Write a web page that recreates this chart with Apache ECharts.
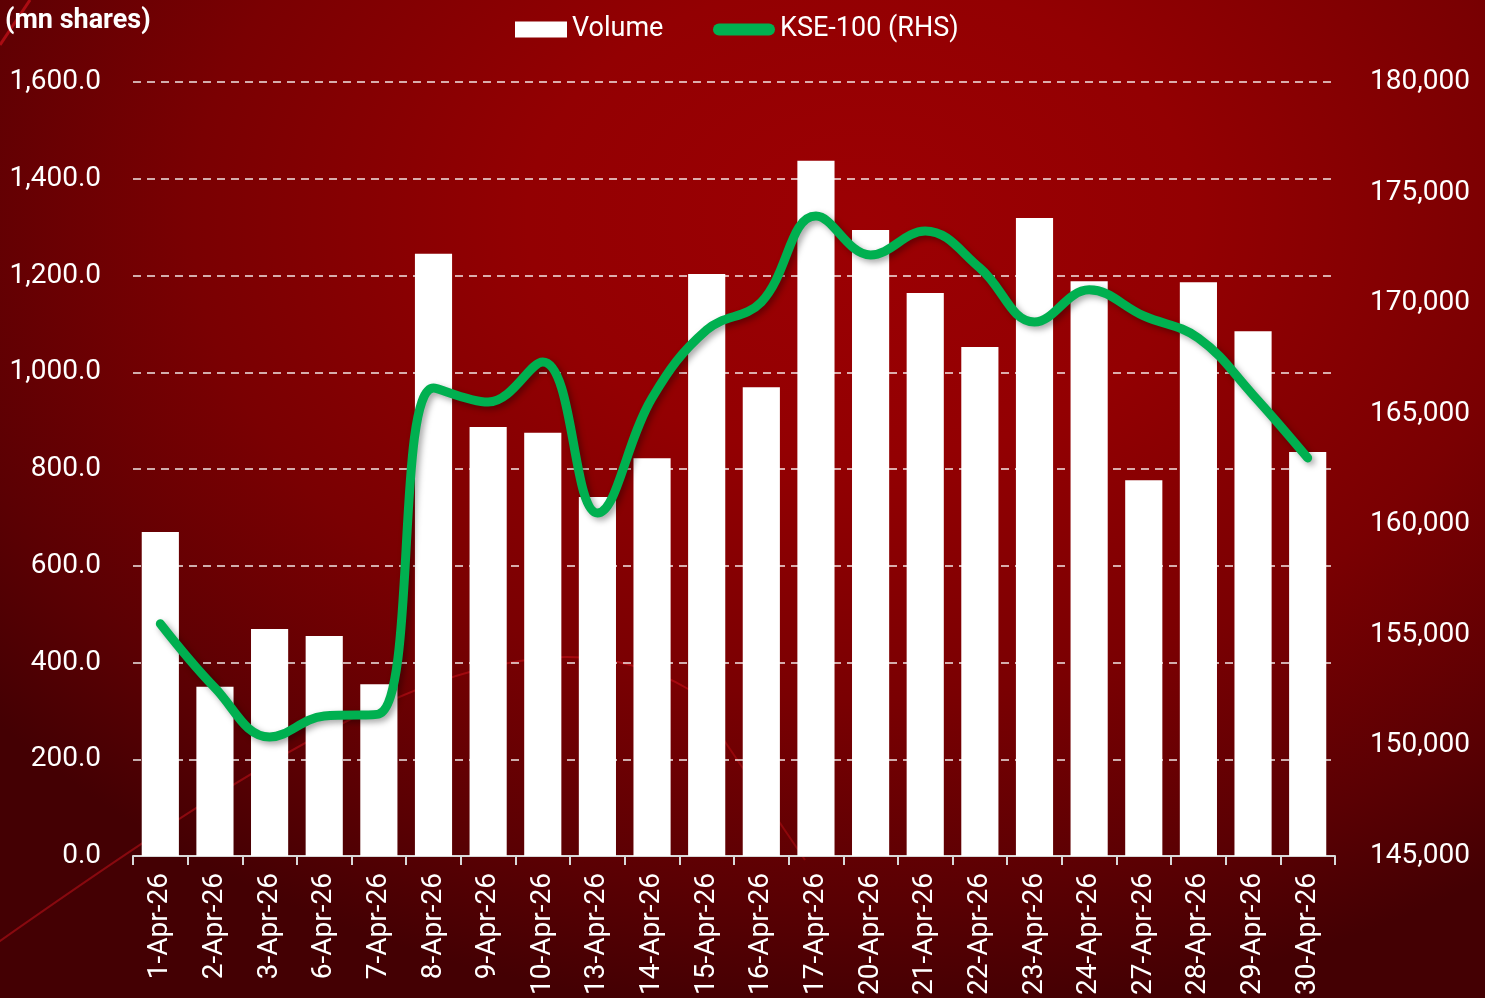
<!DOCTYPE html>
<html>
<head>
<meta charset="utf-8">
<script src="https://cdn.jsdelivr.net/npm/echarts@6/dist/echarts.min.js"></script>
<style>
html,body{margin:0;padding:0;width:1485px;height:998px;overflow:hidden;}
body{background:radial-gradient(ellipse 75% 80% at 58% 22%, #9c0003 0%, #930002 30%, #7a0002 60%, #5a0003 85%, #440003 100%);}
#c{width:1485px;height:998px;}
</style>
</head>
<body>
<div id="c"></div>
<script>
const categories = ['1-Apr-26','2-Apr-26','3-Apr-26','6-Apr-26','7-Apr-26','8-Apr-26','9-Apr-26','10-Apr-26','13-Apr-26','14-Apr-26','15-Apr-26','16-Apr-26','17-Apr-26','20-Apr-26','21-Apr-26','22-Apr-26','23-Apr-26','24-Apr-26','27-Apr-26','28-Apr-26','29-Apr-26','30-Apr-26'];
const volume = [670, 350, 469, 455, 355, 1245, 887, 875, 742, 822, 1203, 969, 1437, 1294, 1164, 1052, 1319, 1188, 777, 1186, 1085, 835];
const kse100 = [155500, 152600, 150380, 151330, 151420, 166160, 165530, 167340, 160510, 165710, 168790, 170050, 173940, 172180, 173260, 171590, 169150, 170600, 169420, 168420, 165850, 163000];
const leftTicks = {min: 0, max: 1600, interval: 200};
const rightTicks = {min: 145000, max: 180000, interval: 5000};
const unitLabel = '(mn shares)';
const volumeName = 'Volume';
const kseName = 'KSE-100 (RHS)';

const font = 'Roboto, "Liberation Sans", Arial, sans-serif';
const chart = echarts.init(document.getElementById('c'), null, {renderer: 'canvas'});
chart.setOption({
  backgroundColor: 'transparent',
  animation: false,
  textStyle: {fontFamily: font, color: '#ffffff'},
  graphic: [
    {type: 'bezierCurve', z: 0, silent: true,
     shape: {x1: -10, y1: 948, x2: 690, y2: 690, cpx1: 300, cpy1: 730, cpx2: 520, cpy2: 590},
     style: {stroke: 'rgba(220,20,30,0.45)', lineWidth: 2, fill: null}},
    {type: 'line', z: 0, silent: true,
     shape: {x1: 690, y1: 690, x2: 805, y2: 860},
     style: {stroke: 'rgba(220,20,30,0.35)', lineWidth: 2}},
    {type: 'line', z: 0, silent: true,
     shape: {x1: 0, y1: 45, x2: 30, y2: 0},
     style: {stroke: 'rgba(220,20,30,0.6)', lineWidth: 3}},
    {type: 'text', left: 5, top: 8, z: 10,
     style: {text: unitLabel, fill: '#ffffff', font: 'bold 27px ' + font}}
  ],
  legend: [
    {left: 515, top: 16, padding: 0, itemWidth: 52, itemHeight: 16, icon: 'rect',
     data: [volumeName], textStyle: {color: '#ffffff', fontSize: 27, fontFamily: font}},
    {left: 713, top: 16, padding: 0, itemWidth: 62, itemHeight: 12,
     data: [{name: kseName, icon: 'path://M6,0 H56 A6,6 0 0 1 56,12 H6 A6,6 0 0 1 6,0 Z'}],
     textStyle: {color: '#ffffff', fontSize: 27, fontFamily: font}}
  ],
  grid: {left: 133, right: 150, top: 82, bottom: 142, containLabel: false},
  xAxis: {
    type: 'category', data: categories, boundaryGap: true,
    axisLine: {lineStyle: {color: '#d9d9d9', width: 2}},
    axisTick: {show: true, length: 9, lineStyle: {color: '#d9d9d9', width: 2}},
    axisLabel: {rotate: 90, color: '#ffffff', fontSize: 28, margin: 17, interval: 0, fontFamily: font}
  },
  yAxis: [
    {type: 'value', min: leftTicks.min, max: leftTicks.max, interval: leftTicks.interval,
     axisLine: {show: false}, axisTick: {show: false},
     axisLabel: {color: '#ffffff', fontSize: 28, margin: 32, fontFamily: font,
       formatter: v => v.toLocaleString('en-US', {minimumFractionDigits: 1, maximumFractionDigits: 1})},
     splitLine: {show: true, lineStyle: {color: 'rgba(255,255,255,0.9)', width: 1.5, type: [8, 6]}}},
    {type: 'value', min: rightTicks.min, max: rightTicks.max, interval: rightTicks.interval,
     axisLine: {show: false}, axisTick: {show: false},
     axisLabel: {color: '#ffffff', fontSize: 28, margin: 35, fontFamily: font,
       formatter: v => v.toLocaleString('en-US')},
     splitLine: {show: false}}
  ],
  series: [
    {name: volumeName, type: 'bar', data: volume, barCategoryGap: '32%', z: 2,
     itemStyle: {color: '#ffffff'}},
    {name: kseName, type: 'line', yAxisIndex: 1, data: kse100, smooth: 0.4,
     symbol: 'none', z: 5,
     lineStyle: {color: '#00B050', width: 9, cap: 'round', join: 'round',
       shadowColor: 'rgba(0,0,0,0.35)', shadowBlur: 6, shadowOffsetX: 3, shadowOffsetY: 3},
     itemStyle: {color: '#00B050'}}
  ]
});
</script>
</body>
</html>
